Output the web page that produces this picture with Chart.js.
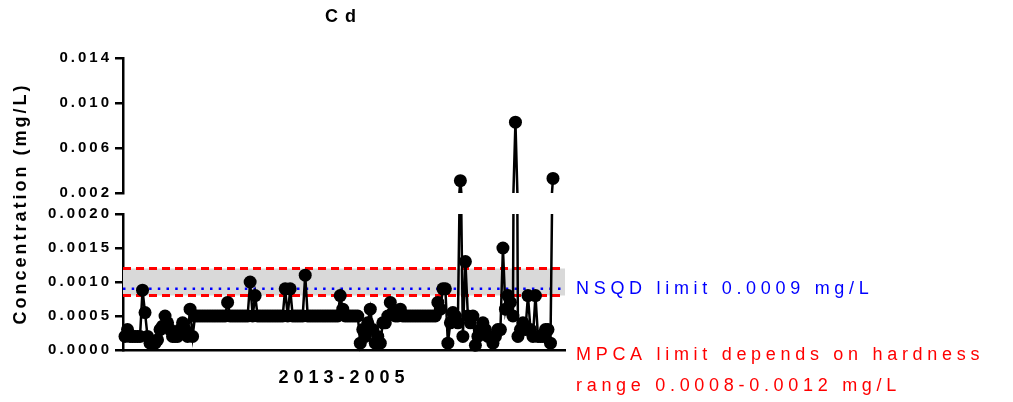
<!DOCTYPE html>
<html lang="en">
<head>
<meta charset="UTF-8">
<title>Cd</title>
<script src="https://cdn.jsdelivr.net/npm/chart.js"></script>
<style>
    body { margin: 0; background: #fff; }
    canvas { display: block; }
</style>
</head>
<body>
<canvas id="chart" width="1013" height="402"></canvas>

<script>
    // Cd samples, 2013 back to 2005, in sampling order (mg/L)
    const earlyVals = [
        0.0002, 0.0003, 0.0002, 0.0002, 0.0002, 0.0002, 0.0002, 0.00088, 0.00055, 0.0002,
        0.0001, 0.0001, 0.0001, 0.00015, 0.0003, 0.00035, 0.0005, 0.0004, 0.0003, 0.0002,
        0.0002, 0.0002, 0.0003, 0.0004, 0.0003, 0.0002, 0.0006, 0.0002, 0.0005
    ];
    const flatVals = [
        0.0005, 0.0005, 0.0005, 0.0005, 0.0005, 0.0005, 0.0005, 0.0005, 0.0005, 0.0005,
        0.0005, 0.0005, 0.0007, 0.0005, 0.0005, 0.0005, 0.0005, 0.0005, 0.0005, 0.0005,
        0.0005, 0.001, 0.0005, 0.0008, 0.0005, 0.0005, 0.0005, 0.0005, 0.0005, 0.0005,
        0.0005, 0.0005, 0.0005, 0.0005, 0.0005, 0.0009, 0.0005, 0.0009, 0.0005, 0.0005,
        0.0005, 0.0005, 0.0005, 0.0011, 0.0005, 0.0005, 0.0005, 0.0005, 0.0005, 0.0005,
        0.0005, 0.0005, 0.0005, 0.0005, 0.0005, 0.0005, 0.0005, 0.0008, 0.0006, 0.0005,
        0.0005, 0.0005, 0.0005, 0.0005, 0.0005
    ];
    const dipVals = [
        0.0001, 0.0003, 0.0002, 0.0004, 0.0006, 0.0003, 0.0001, 0.0002, 0.0001, 0.0004,
        0.0004, 0.0005, 0.0007, 0.00055, 0.0005, 0.0005, 0.0006, 0.0005, 0.0005, 0.0005,
        0.0005, 0.0005, 0.0005, 0.0005, 0.0005, 0.0005, 0.0005, 0.0005, 0.0005, 0.0005,
        0.0005
    ];
    const lateVals = [
        0.0007, 0.0006, 0.0009, 0.0009, 0.0001, 0.0004, 0.00055, 0.0005, 0.0004, 0.0031,
        0.0002, 0.0013, 0.0005, 0.0004, 0.0005, 0.00007, 0.0002, 0.0003, 0.0004, 0.0003,
        0.0002, 0.0002, 0.0001, 0.0002, 0.0003, 0.0003, 0.0015, 0.0006, 0.0008, 0.0007,
        0.0005, 0.0083, 0.0002, 0.0003, 0.0004, 0.0003, 0.0008, 0.0003, 0.0002, 0.0008,
        0.0002, 0.0002, 0.0002, 0.0003, 0.0003, 0.0001, 0.0033
    ];
    const cdVals = earlyVals.concat(flatVals, dipVals, lateVals);

    // broken y axis: lower and upper segments
    const lowTicks = [0, 0.0005, 0.001, 0.0015, 0.002];
    const highTicks = [0.002, 0.006, 0.010, 0.014];
    const breakAt = 0.002;

    // limits
    const nsqdLimit = 0.0009;
    const mpcaRange = [0.0008, 0.0012];
    const nsqdText = 'NSQD limit 0.0009 mg/L';
    const mpcaText = ['MPCA limit depends on hardness', 'range 0.0008-0.0012 mg/L'];

    const xMin = -0.8;
    const xMax = 175.8;
    const FONT = '"Liberation Sans", Arial, sans-serif';

    const points = cdVals.map((v, i) => ({ x: i, y: v }));
    const flatLine = v => [{ x: xMin, y: v }, { x: xMax, y: v }];

    // canvas letterSpacing on the library's own text
    const spacing = {
        id: 'spacing',
        beforeDraw(chart) {
            const ctx = chart.ctx;
            const wrap = (obj, name, px) => {
                if (!obj || obj[name].spaced) return;
                const orig = obj[name];
                obj[name] = function (...args) {
                    const prev = ctx.letterSpacing;
                    ctx.letterSpacing = px;
                    orig.apply(this, args);
                    ctx.letterSpacing = prev;
                };
                obj[name].spaced = true;
            };
            wrap(chart.titleBlock, 'draw', '7px');
            wrap(chart.scales.x, 'drawTitle', '5px');
            ['yTop', 'yGap', 'yBot'].forEach(id => {
                wrap(chart.scales[id], 'drawLabels', '3px');
                wrap(chart.scales[id], 'drawTitle', '3px');
            });
        }
    };

    const limitLabels = {
        id: 'limitLabels',
        afterDraw(chart) {
            const { ctx, chartArea } = chart;
            const y = chart.scales.yBot;
            const x = chartArea.right + 11;
            ctx.save();
            ctx.font = '18px ' + FONT;
            ctx.letterSpacing = '4.7px';
            ctx.textBaseline = 'middle';
            ctx.fillStyle = '#0000ff';
            ctx.fillText(nsqdText, x, y.getPixelForValue(nsqdLimit));
            ctx.fillStyle = '#ff0000';
            ctx.fillText(mpcaText[0], x, chartArea.bottom + 5);
            ctx.fillText(mpcaText[1], x, chartArea.bottom + 36);
            ctx.restore();
        }
    };

    const axisWidth = s => { s.width = 123; };

    new Chart(document.getElementById('chart'), {
        type: 'line',
        data: {
            datasets: [
                {
                    data: points, yAxisID: 'yBot',
                    borderColor: '#000', borderWidth: 2.5,
                    pointRadius: c => (c.raw && c.raw.y > breakAt ? 0 : 6.5),
                    pointBackgroundColor: '#000', pointBorderWidth: 0,
                    clip: { left: 8, right: 8, top: 0, bottom: 8 }
                },
                {
                    data: points, yAxisID: 'yTop',
                    borderColor: '#000', borderWidth: 2.5,
                    pointRadius: c => (c.raw && c.raw.y < breakAt ? 0 : 6.5),
                    pointBackgroundColor: '#000', pointBorderWidth: 0,
                    clip: { left: 8, right: 8, top: 8, bottom: 0 }
                },
                {
                    data: flatLine(nsqdLimit), yAxisID: 'yBot',
                    borderColor: '#0000ff', borderWidth: 2.5, borderDash: [2.5, 6.2],
                    pointRadius: 0
                },
                {
                    data: flatLine(mpcaRange[1]), yAxisID: 'yBot',
                    borderColor: '#ff0000', borderWidth: 3, borderDash: [8, 5],
                    pointRadius: 0, fill: '+1', backgroundColor: '#d9d9d9'
                },
                {
                    data: flatLine(mpcaRange[0]), yAxisID: 'yBot',
                    borderColor: '#ff0000', borderWidth: 3, borderDash: [8, 5],
                    pointRadius: 0
                }
            ]
        },
        options: {
            responsive: false,
            animation: false,
            devicePixelRatio: 1,
            layout: { padding: { left: 0, right: 448, top: 0, bottom: 0 } },
            plugins: {
                legend: { display: false },
                tooltip: { enabled: false },
                filler: { drawTime: 'beforeDatasetsDraw' },
                title: {
                    display: true, text: 'Cd', fullSize: false, color: '#000',
                    font: { family: FONT, size: 18, weight: 'bold' },
                    padding: { top: 6, bottom: 30.4 }
                }
            },
            scales: {
                x: {
                    type: 'linear', min: xMin, max: xMax,
                    ticks: { display: false },
                    grid: { display: false, drawTicks: false },
                    border: { color: '#000', width: 2.5 },
                    title: {
                        display: true, text: '2013-2005', color: '#000',
                        font: { family: FONT, size: 18, weight: 'bold' },
                        padding: { top: 17.2, bottom: 13.2 }
                    }
                },
                yTop: {
                    type: 'linear', position: 'left', stack: 'cd', stackWeight: 135, weight: 3,
                    min: 0.002, max: 0.014,
                    afterBuildTicks: s => { s.ticks = highTicks.map(v => ({ value: v })); },
                    afterFit: axisWidth,
                    ticks: {
                        color: '#000', padding: 3,
                        font: { family: FONT, size: 15, weight: 'bold' },
                        callback: v => v.toFixed(3)
                    },
                    grid: { drawOnChartArea: false, tickLength: 8, color: '#000', lineWidth: 2.5 },
                    border: { color: '#000', width: 2.5 }
                },
                yGap: {
                    type: 'linear', position: 'left', stack: 'cd', stackWeight: 21, weight: 2,
                    afterFit: axisWidth,
                    ticks: { display: false },
                    grid: { display: false, drawTicks: false },
                    border: { display: false },
                    title: {
                        display: true, text: 'Concentration (mg/L)', color: '#000',
                        font: { family: FONT, size: 18, weight: 'bold' },
                        padding: { top: 10, bottom: 0 }
                    }
                },
                yBot: {
                    type: 'linear', position: 'left', stack: 'cd', stackWeight: 136, weight: 1,
                    min: 0, max: 0.002,
                    afterBuildTicks: s => { s.ticks = lowTicks.map(v => ({ value: v })); },
                    afterFit: axisWidth,
                    ticks: {
                        color: '#000', padding: 3,
                        font: { family: FONT, size: 15, weight: 'bold' },
                        callback: v => v.toFixed(4)
                    },
                    grid: { drawOnChartArea: false, tickLength: 8, color: '#000', lineWidth: 2.5 },
                    border: { color: '#000', width: 2.5 }
                }
            }
        },
        plugins: [spacing, limitLabels]
    });
</script>
</body>
</html>
